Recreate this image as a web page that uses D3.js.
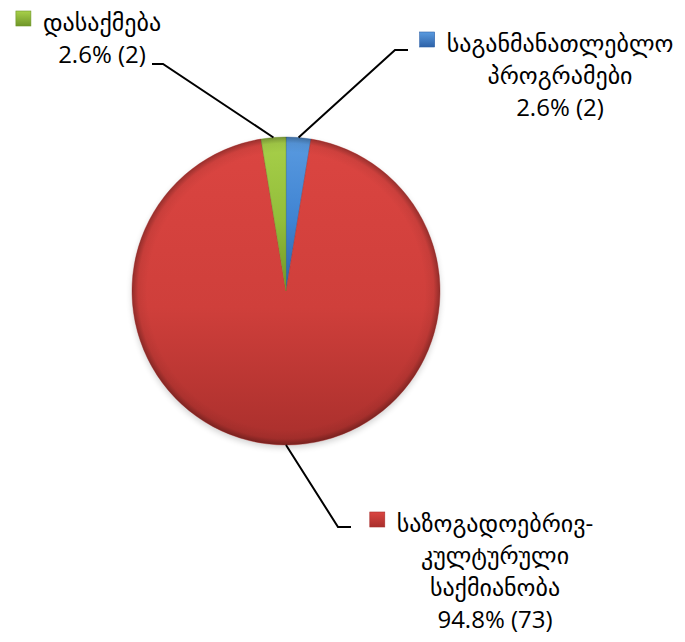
<!DOCTYPE html>
<html>
<head>
<meta charset="utf-8">
<script src="https://cdn.jsdelivr.net/npm/d3@7"></script>
<style>
  html, body { margin: 0; padding: 0; background: #fff; }
  svg { display: block; }
  text { font-family: "Open Sans", "DejaVu Sans", sans-serif; font-size: 24px; fill: #000; }
</style>
</head>
<body>
<svg id="chart" width="685" height="642"></svg>
<script>
// ---- data ----
const categories = ["საგანმანათლებლო პროგრამები", "საზოგადოებრივ-კულტურული საქმიანობა", "დასაქმება"];
const counts = [2, 73, 2];
const percents = ["2.6%", "94.8%", "2.6%"];
const labelLines = [
  ["საგანმანათლებლო", "პროგრამები", "2.6% (2)"],
  ["საზოგადოებრივ-", "კულტურული", "საქმიანობა", "94.8% (73)"],
  ["დასაქმება", "2.6% (2)"]
];
const colors = [
  { light: "#5a9be0", base: "#3f83d2", dark: "#2d62a8" },
  { light: "#db4541", base: "#cf3f3b", dark: "#a92f2c" },
  { light: "#a8d04a", base: "#92bd3a", dark: "#6f9628" }
];

// ---- layout ----
const svg = d3.select("#chart");
const cx = 286, cy = 291, R = 154;
const lineH = 32;
const labelCfg = [
  { cx: 560, y0: 52, lead: [[395, 50], [408, 50]] },
  { cx: 495, y0: 532, lead: [[338, 527], [351, 527]] },
  { cx: 102, y0: 31, lead: [[163, 64], [152, 64]] }
];

const defs = svg.append("defs");
colors.forEach((c, i) => {
  const g = defs.append("linearGradient").attr("id", "g" + i)
    .attr("x1", 0).attr("y1", 0).attr("x2", 0).attr("y2", 1);
  g.append("stop").attr("offset", "0%").attr("stop-color", c.light);
  g.append("stop").attr("offset", "55%").attr("stop-color", c.base);
  g.append("stop").attr("offset", "100%").attr("stop-color", c.dark);
  const sq = defs.append("linearGradient").attr("id", "sq" + i)
    .attr("x1", 0).attr("y1", 0).attr("x2", 0).attr("y2", 1);
  sq.append("stop").attr("offset", "0%").attr("stop-color", c.light);
  sq.append("stop").attr("offset", "100%").attr("stop-color", c.dark);
});
const rim = defs.append("radialGradient").attr("id", "rim")
  .attr("cx", "50%").attr("cy", "50%").attr("r", "50%");
rim.append("stop").attr("offset", "0%").attr("stop-color", "#000").attr("stop-opacity", 0);
rim.append("stop").attr("offset", "90%").attr("stop-color", "#000").attr("stop-opacity", 0);
rim.append("stop").attr("offset", "96%").attr("stop-color", "#000").attr("stop-opacity", 0.06);
rim.append("stop").attr("offset", "100%").attr("stop-color", "#000").attr("stop-opacity", 0.3);
const blur = defs.append("filter").attr("id", "shadow").attr("x", "-10%").attr("y", "-10%").attr("width", "120%").attr("height", "125%");
blur.append("feGaussianBlur").attr("stdDeviation", 3);

const pie = d3.pie().sort(null).value(d => d);
const arcs = pie(counts);
const arc = d3.arc().innerRadius(0).outerRadius(R);

const gPie = svg.append("g").attr("transform", `translate(${cx},${cy})`);
gPie.append("circle").attr("cx", 0).attr("cy", 3).attr("r", R)
  .attr("fill", "#000").attr("opacity", 0.18).attr("filter", "url(#shadow)");
const sliceG = gPie.selectAll("g.slice").data(arcs).join("g").attr("class", "slice");
sliceG.append("path")
  .attr("d", arc)
  .attr("fill", (d, i) => `url(#g${i})`)
  .attr("stroke", (d, i) => colors[i].dark)
  .attr("stroke-opacity", 0.5)
  .attr("stroke-width", 0.8);
// rim shading
gPie.append("circle").attr("r", R).attr("fill", "url(#rim)").attr("pointer-events", "none");

// leader lines from slice midpoints
const outer = d3.arc().innerRadius(R).outerRadius(R);
arcs.forEach((d, i) => {
  const p = outer.centroid(d);
  const start = [cx + p[0], cy + p[1]];
  const pts = [start, labelCfg[i].lead[0], labelCfg[i].lead[1]];
  svg.append("path")
    .attr("d", d3.line()(pts))
    .attr("fill", "none").attr("stroke", "#000").attr("stroke-width", 2);
});

// labels
labelLines.forEach((lines, i) => {
  const cfg = labelCfg[i];
  const g = svg.append("g");
  let firstText;
  lines.forEach((ln, j) => {
    const t = g.append("text")
      .attr("x", cfg.cx).attr("y", cfg.y0 + j * lineH)
      .attr("text-anchor", "middle")
      .text(ln);
    if (j === 0) firstText = t;
  });
  const w = firstText.node().getComputedTextLength();
  const left = cfg.cx - w / 2;
  g.append("rect")
    .attr("x", left - 27).attr("y", cfg.y0 - 20)
    .attr("width", 15).attr("height", 15)
    .attr("fill", `url(#sq${i})`)
    .attr("stroke", colors[i].dark).attr("stroke-width", 0.6);
});
</script>
</body>
</html>
